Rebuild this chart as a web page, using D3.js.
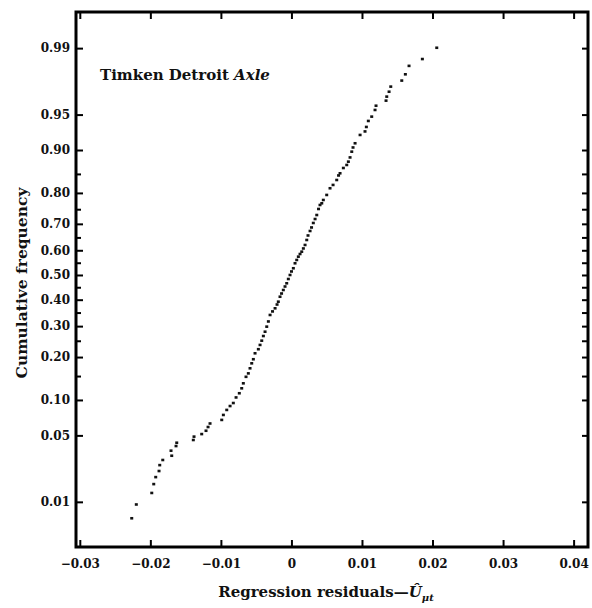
<!DOCTYPE html>
<html><head><meta charset="utf-8">
<script src="https://cdn.jsdelivr.net/npm/d3@7"></script>
<style>body{margin:0;background:#fff}</style>
</head><body>
<svg id="chart" width="592" height="608"></svg>
<script>
// ---- data ----
const residuals = [-0.02264,-0.02199,-0.01980,-0.01952,-0.01924,-0.01877,-0.01867,-0.01824,-0.01697,-0.01707,
-0.01636,-0.01626,-0.01391,-0.01381,-0.01272,-0.01211,-0.01182,-0.01154,-0.00988,-0.00965,
-0.00917,-0.00870,-0.00824,-0.00785,-0.00739,-0.00705,-0.00682,-0.00644,-0.00611,-0.00587,
-0.00563,-0.00540,-0.00516,-0.00469,-0.00445,-0.00421,-0.00398,-0.00374,-0.00350,-0.00327,
-0.00303,-0.00268,-0.00232,-0.00204,-0.00186,-0.00162,-0.00140,-0.00115,-0.00091,-0.00067,
-0.00044,-0.00020,0.00001,0.00027,0.00051,0.00075,0.00098,0.00122,0.00146,0.00169,
0.00193,0.00217,0.00235,0.00264,0.00285,0.00310,0.00335,0.00359,0.00384,0.00405,
0.00430,0.00452,0.00500,0.00547,0.00590,0.00642,0.00668,0.00689,0.00736,0.00784,
0.00807,0.00831,0.00855,0.00873,0.00902,0.00973,0.01043,0.01062,0.01090,0.01138,
0.01185,0.01199,0.01341,0.01351,0.01384,0.01408,0.01564,0.01615,0.01667,0.01856,0.02060];
const cumFreq = [0.0063,0.0093,0.0127,0.0160,0.0191,0.0222,0.0256,0.0289,0.0319,0.0358,
0.0397,0.0427,0.0453,0.0487,0.0514,0.0551,0.0595,0.0639,0.0686,0.0756,
0.0832,0.0895,0.0946,0.1046,0.1126,0.1226,0.1333,0.1482,0.1565,0.1693,
0.1825,0.1938,0.2110,0.2233,0.2366,0.2503,0.2657,0.2804,0.2981,0.3168,
0.3409,0.3543,0.3663,0.3810,0.3921,0.4118,0.4247,0.4388,0.4530,0.4661,
0.4836,0.5000,0.5144,0.5275,0.5478,0.5612,0.5745,0.5852,0.5945,0.6072,
0.6209,0.6402,0.6573,0.6741,0.6870,0.7031,0.7170,0.7307,0.7508,0.7636,
0.7689,0.7791,0.7941,0.8131,0.8221,0.8350,0.8463,0.8515,0.8637,0.8704,
0.8774,0.8860,0.8970,0.9045,0.9116,0.9245,0.9295,0.9355,0.9429,0.9478,
0.9547,0.9587,0.9631,0.9663,0.9699,0.9733,0.9769,0.9802,0.9840,0.9866,0.9901];
const xTicks = [-0.03,-0.02,-0.01,0,0.01,0.02,0.03,0.04];
const xTickLabels = ["\u22120.03","\u22120.02","\u22120.01","0","0.01","0.02","0.03","0.04"];
const yTicks = [0.01,0.05,0.10,0.20,0.30,0.40,0.50,0.60,0.70,0.80,0.90,0.95,0.99];
const yTickLabels = ["0.01","0.05","0.10","0.20","0.30","0.40","0.50","0.60","0.70","0.80","0.90","0.95","0.99"];
const yMinorTicks = [0.15,0.25,0.35,0.45,0.55,0.65,0.75,0.85];
const xDomain = [-0.03054, 0.04204];
const yDomain = [0.00264, 0.9965];
const title = "Timken Detroit ";
const titleItalic = "Axle";

// inverse normal CDF (Acklam)
function probit(p){
  const a=[-3.969683028665376e+01,2.209460984245205e+02,-2.759285104469687e+02,1.383577518672690e+02,-3.066479806614716e+01,2.506628277459239e+00];
  const b=[-5.447609879822406e+01,1.615858368580409e+02,-1.556989798598866e+02,6.680131188771972e+01,-1.328068155288572e+01];
  const c=[-7.784894002430293e-03,-3.223964580411365e-01,-2.400758277161838e+00,-2.549732539343734e+00,4.374664141464968e+00,2.938163982698783e+00];
  const d=[7.784695709041462e-03,3.224671290700398e-01,2.445134137142996e+00,3.754408661907416e+00];
  const pl=0.02425; let q,r;
  if(p<pl){q=Math.sqrt(-2*Math.log(p));return (((((c[0]*q+c[1])*q+c[2])*q+c[3])*q+c[4])*q+c[5])/((((d[0]*q+d[1])*q+d[2])*q+d[3])*q+1);}
  if(p<=1-pl){q=p-0.5;r=q*q;return (((((a[0]*r+a[1])*r+a[2])*r+a[3])*r+a[4])*r+a[5])*q/(((((b[0]*r+b[1])*r+b[2])*r+b[3])*r+b[4])*r+1);}
  q=Math.sqrt(-2*Math.log(1-p));return -(((((c[0]*q+c[1])*q+c[2])*q+c[3])*q+c[4])*q+c[5])/((((d[0]*q+d[1])*q+d[2])*q+d[3])*q+1);
}

const L=76, R=588, T=12, B=547;
const svg = d3.select("#chart");
const x = d3.scaleLinear().domain(xDomain).range([L,R]);
const z = d3.scaleLinear().domain(yDomain.map(probit)).range([B,T]);
const font = "'DejaVu Serif', serif";

// axes (ticks inward)
const fmtX = (d,i)=>xTickLabels[i];
svg.append("g").attr("transform",`translate(0,${B})`)
  .call(d3.axisBottom(x).tickValues(xTicks).tickFormat(fmtX).tickSizeInner(-7).tickSizeOuter(0).tickPadding(12))
  .call(g=>g.select(".domain").remove())
  .call(g=>g.selectAll("line").attr("stroke","#000").attr("stroke-width",2))
  .call(g=>g.selectAll("text").attr("font-family",font).attr("font-weight","bold").attr("font-size",12).attr("fill","#111"));
svg.append("g").attr("transform",`translate(0,${T})`)
  .call(d3.axisTop(x).tickValues(xTicks).tickFormat("").tickSizeInner(-7).tickSizeOuter(0))
  .call(g=>g.select(".domain").remove())
  .call(g=>g.selectAll("line").attr("stroke","#000").attr("stroke-width",2));

const zt = yTicks.map(probit), zm = yMinorTicks.map(probit);
svg.append("g").attr("transform",`translate(${L},0)`)
  .call(d3.axisLeft(z).tickValues(zt).tickFormat((d,i)=>yTickLabels[i]).tickSizeInner(-7).tickSizeOuter(0).tickPadding(6))
  .call(g=>g.select(".domain").remove())
  .call(g=>g.selectAll("line").attr("stroke","#000").attr("stroke-width",2))
  .call(g=>g.selectAll("text").attr("font-family",font).attr("font-weight","bold").attr("font-size",12).attr("fill","#111"));
svg.append("g").attr("transform",`translate(${L},0)`)
  .call(d3.axisLeft(z).tickValues(zm).tickFormat("").tickSizeInner(-5).tickSizeOuter(0))
  .call(g=>g.select(".domain").remove())
  .call(g=>g.selectAll("line").attr("stroke","#000").attr("stroke-width",2));
svg.append("g").attr("transform",`translate(${R},0)`)
  .call(d3.axisRight(z).tickValues(zt.concat(zm)).tickFormat("").tickSizeInner(-6).tickSizeOuter(0))
  .call(g=>g.select(".domain").remove())
  .call(g=>g.selectAll("line").attr("stroke","#000").attr("stroke-width",2));

// frame
svg.append("rect").attr("x",L).attr("y",T).attr("width",R-L).attr("height",B-T)
  .attr("fill","none").attr("stroke","#000").attr("stroke-width",3);

// points
const pts = residuals.map((r,i)=>({r, p:cumFreq[i]}));
svg.append("g").selectAll("rect").data(pts).join("rect")
  .attr("x",d=>x(d.r)-1.5).attr("y",d=>z(probit(d.p))-1.3)
  .attr("width",3).attr("height",2.6).attr("fill","#111");

// title inside
const t = svg.append("text").attr("x",100).attr("y",80).attr("font-family",font)
  .attr("font-size",15).attr("fill","#111").attr("font-weight","bold");
t.append("tspan").text(title);
t.append("tspan").attr("font-style","italic").text(titleItalic);

// axis titles
svg.append("text").attr("transform","translate(27,283) rotate(-90)").attr("text-anchor","middle")
  .attr("font-family",font).attr("font-weight","bold").attr("font-size",15.5).attr("fill","#111")
  .text("Cumulative frequency");
const xl = svg.append("text").attr("x",326).attr("y",597).attr("text-anchor","middle")
  .attr("font-family",font).attr("font-weight","bold").attr("font-size",15).attr("fill","#111");
xl.append("tspan").text("Regression residuals\u2014");
xl.append("tspan").attr("font-style","italic").text("\u00DB");
xl.append("tspan").attr("font-size",10).attr("dy",4).attr("font-style","italic").text("\u03BCt");
</script>
</body></html>
